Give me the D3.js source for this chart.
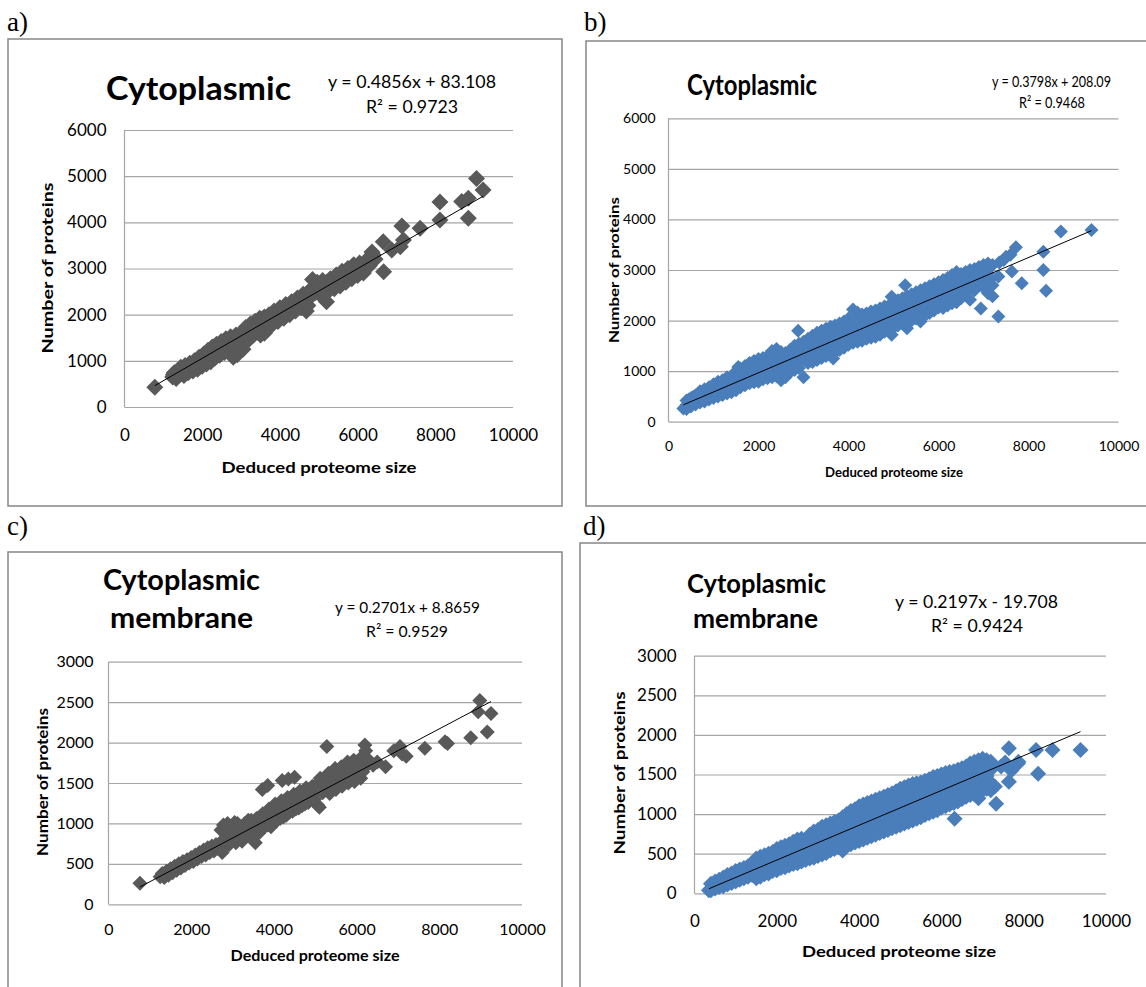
<!DOCTYPE html>
<html>
<head>
<meta charset="utf-8">
<script src="https://cdn.jsdelivr.net/npm/d3@7"></script>
<style>
  body { margin: 0; background: #fff; }
  svg { display: block; }
  text { font-family: Lato, "Open Sans", sans-serif; fill: #000; }
</style>
</head>
<body>
<svg id="chart" width="1146" height="987"></svg>
<script>
// ---- data ----
const sizeTicks = [0, 2000, 4000, 6000, 8000, 10000];
const cytoTicks = [0, 1000, 2000, 3000, 4000, 5000, 6000];
const membTicks = [0, 500, 1000, 1500, 2000, 2500, 3000];

const panelLetters = ["a)", "b)", "c)", "d)"];
const titles = [["Cytoplasmic"], ["Cytoplasmic"], ["Cytoplasmic", "membrane"], ["Cytoplasmic", "membrane"]];
const equations = ["y = 0.4856x + 83.108", "y = 0.3798x + 208.09", "y = 0.2701x + 8.8659", "y = 0.2197x - 19.708"];
const rSquared = ["0.9723", "0.9468", "0.9529", "0.9424"];
const trendCoef = [[0.4856, 83.108], [0.3798, 208.09], [0.2701, 8.8659], [0.2197, -19.708]];

// a) cytoplasmic, [proteome size, proteins]
const cytoGray = [
  [780,430],[1240,650],[1280,740],[1330,620],[1370,790],[1420,700],[1450,860],[1490,760],[1530,680],[1560,900],
  [1600,820],[1640,740],[1680,950],[1720,870],[1760,780],[1800,1000],[1840,900],[1880,820],[1920,1080],[1960,960],
  [2000,880],[2040,1150],[2080,1030],[2110,930],[2150,1230],[2190,1100],[2220,980],[2260,1300],[2300,1180],[2330,1060],
  [2370,1360],[2410,1240],[2450,1120],[2490,1420],[2530,1300],[2570,1180],[2610,1480],[2650,1360],[2690,1240],[2730,1520],
  [2770,1400],[2800,1080],[2830,1200],[2870,1560],[2900,1130],[2920,1440],[2950,1200],[2960,1300],[3000,1600],[3040,1480],
  [3050,1250],[3080,1380],[3120,1720],[3160,1580],[3200,1460],[3240,1800],[3280,1660],[3320,1560],[3360,1860],[3400,1740],
  [3440,1620],[3480,1920],[3500,1560],[3520,1800],[3560,1680],[3600,1950],[3600,1600],[3640,1840],[3680,1730],[3720,2000],
  [3760,1900],[3800,1780],[3850,2080],[3900,1960],[3950,1850],[4000,2150],[4050,2030],[4100,1920],[4150,2220],[4200,2100],
  [4250,2000],[4300,2280],[4350,2180],[4400,2080],[4450,2360],[4500,2250],[4550,2150],[4600,2440],[4650,2300],[4680,2080],
  [4720,2200],[4760,2520],[4800,2400],[4840,2760],[4880,2600],[4920,2480],[4960,2700],[5000,2560],[5050,2420],[5100,2740],
  [5150,2600],[5200,2280],[5240,2500],[5300,2780],[5350,2660],[5400,2560],[5450,2860],[5500,2740],[5550,2620],[5600,2940],
  [5650,2820],[5700,2700],[5750,3000],[5800,2880],[5850,2780],[5900,3080],[5950,2960],[6000,2850],[6050,3120],[6100,3000],
  [6150,2900],[6250,3200],[6300,3060],[6400,3300],[6370,3360],[6660,3580],[6670,2930],[6880,3400],[7100,3470],[7180,3620],
  [7140,3920],[7610,3870],[8120,4440],[8120,4050],[8680,4450],[8850,4520],[8850,4090],[9060,4950],[9230,4700],
  [1260,700],[1400,780],[1540,820],[1700,900],[1860,980],[2020,1060],[2180,1160],[2350,1250],[2500,1300],[2650,1420],
  [2780,1460],[2850,1380],[2980,1500],[3130,1560],[3260,1700],[3420,1780],[3540,1900],[3700,1860],[3880,2040],[3980,1980],
  [4120,2080],[4270,2150],[4420,2220],[4570,2300],[4730,2350],[4900,2560],[5070,2560],[5200,2700],[5330,2600],[5480,2800],
  [5630,2880],[5780,2950],[5930,3020],[6080,3060],[6200,3020],[6350,3150],[6450,3200]
];

// b) cytoplasmic
const cytoBlue = [
  [330,260],[400,420],[400,330],[400,250],[500,470],[500,380],[500,300],[552,495],[600,520],[600,430],
  [600,340],[700,600],[700,470],[700,380],[800,640],[800,520],[800,400],[900,680],[900,560],[900,440],
  [1000,740],[1000,590],[1000,470],[1100,790],[1100,640],[1100,500],[1200,820],[1200,670],[1200,530],[1300,880],
  [1300,710],[1300,560],[1400,900],[1400,760],[1400,580],[1500,1000],[1500,780],[1500,620],[1550,1080],[1600,1050],
  [1600,830],[1600,680],[1700,1100],[1700,870],[1700,720],[1800,1160],[1800,910],[1800,760],[1900,1200],[1900,950],
  [1900,780],[2000,1240],[2000,980],[2000,790],[2100,1260],[2100,1020],[2100,840],[2200,1300],[2200,1060],[2200,860],
  [2300,1400],[2300,1100],[2300,880],[2400,1440],[2400,1130],[2400,900],[2500,1380],[2500,1160],[2500,820],[2600,1360],
  [2600,1200],[2600,880],[2700,1420],[2700,1230],[2700,980],[2800,1500],[2800,1260],[2800,1020],[2880,1800],[2900,1540],
  [2900,1300],[2900,1060],[3000,1580],[3000,1340],[3000,880],[3100,1640],[3100,1380],[3100,1160],[3200,1700],[3200,1420],
  [3200,1180],[3300,1760],[3300,1460],[3300,1220],[3400,1800],[3400,1500],[3400,1260],[3500,1840],[3500,1540],[3500,1300],
  [3600,1880],[3600,1580],[3600,1320],[3660,1250],[3700,1900],[3700,1620],[3700,1380],[3800,1940],[3800,1660],[3800,1420],
  [3900,1980],[3900,1700],[3900,1460],[4000,2040],[4000,1740],[4000,1520],[4100,2220],[4100,1780],[4100,1560],[4200,2160],
  [4200,1820],[4200,1580],[4300,2120],[4300,1860],[4300,1600],[4400,2140],[4400,1880],[4400,1640],[4500,2180],[4500,1920],
  [4500,1660],[4600,2200],[4600,1960],[4600,1680],[4700,2240],[4700,1990],[4700,1720],[4800,2280],[4800,2030],[4800,1780],
  [4900,2300],[4900,2070],[4900,1800],[4960,2470],[4960,1720],[5000,2350],[5000,2100],[5000,1860],[5100,2400],[5100,2140],
  [5100,1900],[5200,2440],[5200,2180],[5200,1940],[5260,2700],[5300,2480],[5300,2220],[5300,1850],[5400,2520],[5400,2260],
  [5400,2000],[5500,2560],[5500,2300],[5500,2040],[5600,2600],[5600,2340],[5600,1980],[5700,2640],[5700,2380],[5700,2100],
  [5800,2680],[5800,2420],[5800,2150],[5900,2720],[5900,2460],[5900,2200],[6000,2760],[6000,2500],[6000,2260],[6100,2800],
  [6100,2540],[6100,2250],[6200,2840],[6200,2580],[6200,2300],[6300,2900],[6300,2620],[6300,2340],[6400,2960],[6400,2660],
  [6400,2360],[6500,2920],[6500,2700],[6500,2440],[6600,2960],[6600,2740],[6600,2500],[6700,3000],[6700,2760],[6700,2410],
  [6800,3020],[6800,2800],[6800,2600],[6900,3060],[6900,2840],[6900,2700],[6940,2240],[7000,3100],[7000,2880],[7000,2650],
  [7100,3130],[7100,2940],[7100,2540],[7200,3100],[7200,2700],[7200,2480],[7330,2870],[7330,2080],[7500,3260],[7630,2970],
  [7720,3450],[7850,2740],[8330,3360],[8330,3000],[8390,2590],[8720,3760],[9400,3790],
  [450,440],[450,330],[550,480],[550,370],[650,520],[650,400],[750,580],[750,440],[850,610],[850,480],
  [950,660],[950,520],[1050,700],[1050,560],[1150,740],[1150,600],[1250,780],[1250,630],[1350,820],[1350,660],
  [1450,880],[1450,680],[1550,930],[1550,720],[1650,970],[1650,760],[1750,1020],[1750,800],[1850,1060],[1850,830],
  [1950,1100],[1950,860],[2050,1140],[2050,900],[2150,1180],[2150,940],[2250,1240],[2250,960],[2350,1280],[2350,1000],
  [2450,1300],[2450,1040],[2550,1300],[2550,1020],[2650,1320],[2650,1080],[2750,1380],[2750,1120],[2850,1420],[2850,1160],
  [2950,1460],[2950,1200],[3050,1500],[3050,1240],[3150,1540],[3150,1280],[3250,1580],[3250,1320],[3350,1640],[3350,1360],
  [3450,1680],[3450,1400],[3550,1720],[3550,1440],[3650,1760],[3650,1480],[3750,1800],[3750,1520],[3850,1840],[3850,1560],
  [3950,1880],[3950,1600],[4050,1920],[4050,1640],[4150,2000],[4150,1680],[4250,2000],[4250,1720],[4350,2020],[4350,1760],
  [4450,2060],[4450,1780],[4550,2080],[4550,1820],[4650,2120],[4650,1860],[4750,2160],[4750,1900],[4850,2200],[4850,1940],
  [4950,2240],[4950,1960],[5050,2260],[5050,2000],[5150,2300],[5150,2040],[5250,2340],[5250,2080],[5350,2380],[5350,2120],
  [5450,2420],[5450,2160],[5550,2460],[5550,2200],[5650,2500],[5650,2240],[5750,2540],[5750,2280],[5850,2580],[5850,2320],
  [5950,2620],[5950,2360],[6050,2660],[6050,2400],[6150,2700],[6150,2420],[6250,2740],[6250,2440],[6350,2780],[6350,2480],
  [6450,2820],[6450,2540],[6550,2860],[6550,2600],[6650,2880],[6650,2620],[6750,2900],[6750,2660],[6850,2940],[6850,2720],
  [6950,2980],[6950,2760],[7050,3020],[7050,2780],[7150,3060],[7150,2820],[7350,3150],[7450,3200],[7600,3300]
];

// c) cytoplasmic membrane
const membGray = [
  [760,260],[1250,340],[1300,380],[1350,330],[1400,410],[1450,360],[1500,440],[1550,390],[1600,470],[1650,420],
  [1700,500],[1750,450],[1800,530],[1850,480],[1900,550],[1950,510],[2000,580],[2050,530],[2100,610],[2150,560],
  [2200,640],[2250,590],[2300,670],[2350,610],[2400,700],[2450,640],[2500,720],[2550,660],[2600,740],[2650,690],
  [2700,760],[2720,920],[2780,980],[2800,700],[2850,800],[2880,1000],[2920,740],[2960,950],[3000,840],[3050,1010],
  [3080,760],[3100,880],[3150,960],[3200,820],[3250,920],[3300,1000],[3350,860],[3400,960],[3450,1040],[3500,900],
  [3550,760],[3600,1000],[3650,1080],[3700,940],[3720,1420],[3750,1040],[3800,1120],[3850,1470],[3850,980],[3900,1080],
  [3950,1160],[4000,1020],[4050,1120],[4100,1220],[4150,1060],[4200,1530],[4200,1160],[4250,1280],[4300,1100],[4350,1550],
  [4350,1200],[4400,1300],[4450,1150],[4500,1570],[4500,1240],[4550,1340],[4600,1190],[4650,1280],[4700,1380],[4750,1240],
  [4800,1330],[4850,1420],[4900,1300],[4950,1380],[5000,1470],[5050,1230],[5100,1200],[5150,1500],[5200,1420],[5250,1560],
  [5280,1950],[5300,1470],[5350,1370],[5400,1600],[5450,1500],[5500,1420],[5550,1650],[5600,1540],[5650,1460],[5700,1700],
  [5750,1580],[5800,1500],[5850,1740],[5900,1620],[5950,1520],[6000,1760],[6050,1650],[6100,1560],[6200,1970],[6220,1900],
  [6250,1720],[6400,1720],[6700,1700],[6900,1900],[7050,1950],[7100,1860],[7200,1830],[7650,1930],[8140,2010],[8200,1990],
  [8760,2060],[8980,2520],[8940,2380],[9250,2360],[9160,2130],
  [1375,370],[1475,400],[1575,430],[1675,460],[1775,490],[1875,520],[1975,540],[2075,570],[2175,600],[2275,630],
  [2375,660],[2475,680],[2575,700],[2675,730],[2750,640],[2820,900],[2900,880],[2980,780],[3030,900],[3120,1000],
  [3180,880],[3230,780],[3280,860],[3330,940],[3380,1040],[3430,900],[3480,820],[3530,980],[3580,1060],[3630,880],
  [3680,1020],[3730,1120],[3780,960],[3830,1060],[3880,1180],[3930,960],[3980,1100],[4030,1240],[4080,1040],[4130,1160],
  [4180,1280],[4230,1080],[4280,1220],[4330,1320],[4380,1140],[4430,1240],[4480,1360],[4530,1180],[4580,1300],[4630,1400],
  [4680,1220],[4730,1320],[4780,1440],[4830,1260],[4880,1360],[4930,1460],[4980,1300],[5030,1400],[5120,1560],[5180,1380],
  [5230,1480],[5320,1620],[5380,1440],[5430,1560],[5480,1680],[5530,1480],[5580,1600],[5630,1700],[5680,1520],[5730,1640],
  [5780,1760],[5830,1560],[5880,1680],[5930,1780],[5980,1600],[6030,1700],[6080,1800],[6150,1640],[6300,1780],[6500,1760]
];

// d) cytoplasmic membrane
const membBlue = [
  [350,40],[400,120],[400,40],[500,150],[500,60],[600,170],[600,80],[700,200],[700,90],[800,230],
  [800,110],[900,250],[900,130],[1000,280],[1000,150],[1100,300],[1100,170],[1200,320],[1200,190],[1300,340],
  [1300,210],[1400,370],[1400,230],[1500,440],[1500,310],[1500,190],[1600,460],[1600,330],[1600,210],[1700,480],
  [1700,350],[1700,240],[1800,500],[1800,370],[1800,250],[1900,520],[1900,400],[1900,280],[2000,560],[2000,420],
  [2000,290],[2100,580],[2100,440],[2100,320],[2200,600],[2200,460],[2200,330],[2300,620],[2300,490],[2300,350],
  [2400,650],[2400,510],[2400,370],[2500,680],[2500,530],[2500,380],[2600,690],[2600,550],[2600,400],[2700,680],
  [2700,570],[2700,420],[2800,740],[2800,600],[2800,440],[2900,780],[2900,620],[2900,450],[3000,800],[3000,640],
  [3000,470],[3100,840],[3100,660],[3100,490],[3200,860],[3200,690],[3200,510],[3300,880],[3300,700],[3300,540],
  [3400,900],[3400,730],[3400,560],[3500,920],[3500,750],[3500,580],[3600,960],[3600,770],[3600,540],[3700,1000],
  [3700,800],[3700,620],[3800,1040],[3800,830],[3800,620],[3900,1060],[3900,850],[3900,640],[4000,1100],[4000,870],
  [4000,660],[4100,1120],[4100,900],[4100,680],[4200,1140],[4200,920],[4200,700],[4300,1160],[4300,940],[4300,720],
  [4400,1180],[4400,960],[4400,740],[4500,1200],[4500,980],[4500,760],[4600,1220],[4600,1000],[4600,780],[4700,1240],
  [4700,1020],[4700,800],[4800,1260],[4800,1040],[4800,820],[4900,1290],[4900,1060],[4900,840],[5000,1320],[5000,1080],
  [5000,860],[5100,1340],[5100,1100],[5100,880],[5200,1360],[5200,1120],[5200,900],[5300,1380],[5300,1150],[5300,920],
  [5400,1390],[5400,1170],[5400,940],[5500,1400],[5500,1190],[5500,960],[5600,1420],[5600,1210],[5600,990],[5700,1440],
  [5700,1230],[5700,1010],[5800,1470],[5800,1250],[5800,1030],[5900,1480],[5900,1270],[5900,1050],[6000,1500],[6000,1300],
  [6000,1080],[6100,1520],[6100,1320],[6100,1100],[6200,1530],[6200,1340],[6200,1120],[6300,1540],[6300,1360],[6300,1140],
  [6320,940],[6400,1560],[6400,1380],[6400,1160],[6500,1580],[6500,1400],[6500,1190],[6600,1600],[6600,1420],[6600,1220],
  [6700,1640],[6700,1450],[6700,1240],[6800,1660],[6800,1480],[6800,1250],[6900,1680],[6900,1500],[6900,1200],[7000,1700],
  [7000,1520],[7000,1300],[7100,1680],[7100,1480],[7100,1320],[7200,1660],[7200,1560],[7200,1300],[7330,1130],[7640,1830],
  [7640,1410],[7860,1640],[8300,1810],[8350,1510],[8700,1810],[9380,1810],
  [450,80],[550,110],[650,130],[750,150],[850,170],[950,200],[1050,220],[1150,250],[1250,260],[1350,290],
  [1450,300],[1450,240],[1550,390],[1550,260],[1650,410],[1650,280],[1750,430],[1750,300],[1850,450],[1850,330],
  [1950,480],[1950,350],[2050,500],[2050,370],[2150,520],[2150,390],[2250,540],[2250,400],[2350,570],[2350,420],
  [2450,600],[2450,440],[2550,620],[2550,460],[2650,630],[2650,480],[2750,650],[2750,500],[2850,700],[2850,530],
  [2950,710],[2950,540],[3050,740],[3050,560],[3150,770],[3150,580],[3250,790],[3250,600],[3350,810],[3350,620],
  [3450,830],[3450,640],[3550,850],[3550,660],[3650,880],[3650,680],[3750,910],[3750,710],[3850,940],[3850,730],
  [3950,960],[3950,750],[4050,980],[4050,780],[4150,1010],[4150,800],[4250,1030],[4250,820],[4350,1050],[4350,840],
  [4450,1070],[4450,860],[4550,1090],[4550,880],[4650,1110],[4650,900],[4750,1130],[4750,920],[4850,1150],[4850,940],
  [4950,1180],[4950,960],[5050,1200],[5050,980],[5150,1230],[5150,1000],[5250,1260],[5250,1030],[5350,1270],[5350,1050],
  [5450,1290],[5450,1070],[5550,1310],[5550,1090],[5650,1320],[5650,1110],[5750,1340],[5750,1130],[5850,1360],[5850,1150],
  [5950,1390],[5950,1180],[6050,1410],[6050,1200],[6150,1430],[6150,1220],[6250,1440],[6250,1240],[6350,1460],[6350,1260],
  [6450,1480],[6450,1280],[6550,1500],[6550,1300],[6650,1540],[6650,1340],[6750,1560],[6750,1360],[6850,1580],[6850,1380],
  [6950,1600],[6950,1400],[7050,1590],[7050,1400],[7150,1580],[7150,1420],[7300,1350],[7450,1600],[7550,1650],[7700,1550],
  [7870,1660]
];

// ---- layout of the four panels ----
const gray = "#595959", blue = "#4a7ebb";
const panels = [
  { pts: cytoGray, yMax: 6000, yTicks: cytoTicks, color: gray, r: 8.5,
    letter: [7, 31], frame: [8, 39, 562, 506], plot: [124.5, 513, 130, 407],
    title: [[106, 100, 185]], titleSize: 32,
    eq: [328, 88, 168], r2: [366, 113, 92], eqSize: 17,
    tickSize: 17, tickGap: 18, xTickBase: 441,
    xTitle: [319, 473, 195], yTitle: [47, 268, 171], axisSize: 16 },
  { pts: cytoBlue, yMax: 6000, yTicks: cytoTicks, color: blue, r: 7,
    letter: [584, 31], frame: [586, 41, 1152, 506], plot: [668.5, 1118.5, 118.3, 421.7],
    title: [[687, 95, 130]], titleSize: 28,
    eq: [992, 87, 119], r2: [1019, 108, 66], eqSize: 15,
    tickSize: 14, tickGap: 13, xTickBase: 451,
    xTitle: [894, 477, 138], yTitle: [614, 270, 146], axisSize: 14 },
  { pts: membGray, yMax: 3000, yTicks: membTicks, color: gray, r: 7.5,
    letter: [7, 535], frame: [8, 552, 562, 995], plot: [108.5, 522, 661.7, 904.3],
    title: [[103, 590, 157], [110, 628, 143]], titleSize: 28,
    eq: [335, 613, 145], r2: [366, 637, 82], eqSize: 16,
    tickSize: 16, tickGap: 15, xTickBase: 935,
    xTitle: [315, 961, 169], yTitle: [43, 782, 148], axisSize: 15 },
  { pts: membBlue, yMax: 3000, yTicks: membTicks, color: blue, r: 8,
    letter: [583, 535], frame: [580, 543, 1152, 995], plot: [694.5, 1106, 655.7, 893.3],
    title: [[687, 593, 139], [693, 628, 125]], titleSize: 26,
    eq: [895, 608, 163], r2: [931, 632, 92], eqSize: 17,
    tickSize: 17, tickGap: 18, xTickBase: 927,
    xTitle: [899, 957, 194], yTitle: [619, 773, 163], axisSize: 16 }
];

const svg = d3.select("#chart");

const diamond = (r) => `M0,${-r}L${r},0L0,${r}L${-r},0Z`;

const fit = (sel, w) => sel.attr("textLength", w).attr("lengthAdjust", "spacingAndGlyphs");

panels.forEach((p, i) => {
  const [px0, px1, py0, py1] = p.plot;
  const x = d3.scaleLinear().domain([0, 10000]).range([px0, px1]);
  const y = d3.scaleLinear().domain([0, p.yMax]).range([py1, py0]);

  // frame
  svg.append("rect")
    .attr("x", p.frame[0]).attr("y", p.frame[1])
    .attr("width", p.frame[2] - p.frame[0]).attr("height", p.frame[3] - p.frame[1])
    .attr("fill", "none").attr("stroke", "#868686").attr("stroke-width", 1.5);

  // panel letter
  svg.append("text")
    .attr("x", p.letter[0]).attr("y", p.letter[1])
    .style("font-family", "'Liberation Serif', 'DejaVu Serif', serif")
    .style("font-size", "27px")
    .text(panelLetters[i]);

  const g = svg.append("g");

  // gridlines
  g.append("g")
    .attr("transform", `translate(${px0},0)`)
    .call(d3.axisLeft(y).tickValues(p.yTicks).tickSize(-(px1 - px0)).tickFormat(""))
    .call((s) => s.select(".domain").remove())
    .selectAll("line").attr("stroke", "#a6a6a6").attr("stroke-width", 1.2);

  // vertical axis line
  g.append("line")
    .attr("x1", px0).attr("x2", px0).attr("y1", py0).attr("y2", py1)
    .attr("stroke", "#a6a6a6").attr("stroke-width", 1.2);

  // y tick labels
  g.append("g")
    .attr("transform", `translate(${px0},0)`)
    .call(d3.axisLeft(y).tickValues(p.yTicks).tickSize(0).tickPadding(p.tickGap).tickFormat(d3.format("d")))
    .call((s) => s.select(".domain").remove())
    .selectAll("text")
    .attr("fill", "#000")
    .style("font-family", "Lato, sans-serif")
    .style("font-size", p.tickSize + "px");

  // x tick labels
  g.append("g")
    .attr("transform", `translate(0,${p.xTickBase})`)
    .call(d3.axisBottom(x).tickValues(sizeTicks).tickSize(0).tickFormat(d3.format("d")))
    .call((s) => s.select(".domain").remove())
    .selectAll("text")
    .attr("y", 0).attr("dy", 0)
    .attr("fill", "#000")
    .style("font-family", "Lato, sans-serif")
    .style("font-size", p.tickSize + "px");

  // markers
  g.append("g")
    .selectAll("path")
    .data(p.pts)
    .join("path")
    .attr("d", diamond(p.r))
    .attr("transform", (d) => `translate(${x(d[0])},${y(d[1])})`)
    .attr("fill", p.color);

  // linear trendline over the data range
  const [slope, icpt] = trendCoef[i];
  const ext = d3.extent(p.pts, (d) => d[0]);
  g.append("path")
    .datum(ext)
    .attr("d", d3.line().x((d) => x(d)).y((d) => y(slope * d + icpt)))
    .attr("stroke", "#000").attr("stroke-width", 1).attr("fill", "none");

  // chart title
  titles[i].forEach((t, k) => {
    const [tx, ty, tw] = p.title[k];
    svg.append("text")
      .attr("x", tx).attr("y", ty)
      .style("font-size", p.titleSize + "px").style("font-weight", 700)
      .text(t)
      .call(fit, tw);
  });

  // equation and R²
  svg.append("text")
    .attr("x", p.eq[0]).attr("y", p.eq[1])
    .style("font-size", p.eqSize + "px")
    .text(equations[i])
    .call(fit, p.eq[2]);
  svg.append("text")
    .attr("x", p.r2[0]).attr("y", p.r2[1])
    .style("font-size", p.eqSize + "px")
    .text("R² = " + rSquared[i])
    .call(fit, p.r2[2]);

  // axis titles
  svg.append("text")
    .attr("x", p.xTitle[0] - p.xTitle[2] / 2).attr("y", p.xTitle[1])
    .style("font-size", p.axisSize + "px").style("font-weight", 700)
    .text("Deduced proteome size")
    .call(fit, p.xTitle[2]);
  svg.append("text")
    .attr("transform", `translate(${p.yTitle[0]},${p.yTitle[1] + p.yTitle[2] / 2}) rotate(-90)`)
    .attr("dy", "0.35em")
    .style("font-size", p.axisSize + "px").style("font-weight", 700)
    .text("Number of proteins")
    .call(fit, p.yTitle[2]);
});
</script>
</body>
</html>
